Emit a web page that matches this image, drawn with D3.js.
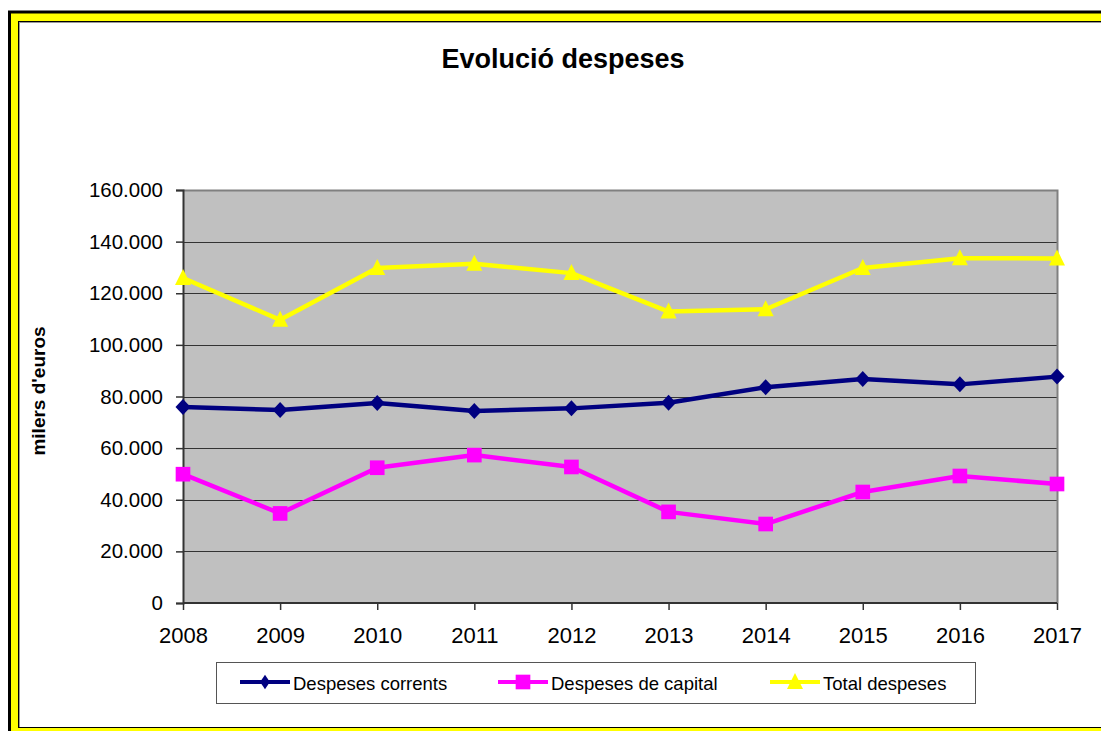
<!DOCTYPE html>
<html>
<head>
<meta charset="utf-8">
<script src="https://cdn.jsdelivr.net/npm/d3@7"></script>
<style>
  body { margin: 0; background: #fff; }
  svg { display: block; font-family: "Liberation Sans", Arial, sans-serif; }
</style>
</head>
<body>
<div id="chart-area"></div>
<script>
var years = ["2008", "2009", "2010", "2011", "2012", "2013", "2014", "2015", "2016", "2017"];
var corrents = [75900, 74800, 77500, 74400, 75400, 77600, 83600, 86800, 84700, 87700];
var capital = [49900, 34700, 52400, 57300, 52700, 35300, 30600, 43000, 49200, 46100];
var total = [125900, 109700, 129800, 131400, 127800, 112900, 113800, 129800, 133600, 133500];
var yTicks = [0, 20000, 40000, 60000, 80000, 100000, 120000, 140000, 160000];
var seriesNames = ["Despeses corrents", "Despeses de capital", "Total despeses"];

var width = 1101, height = 731;
var svg = d3.select("#chart-area").append("svg")
    .attr("width", width)
    .attr("height", height);

// outer frame (yellow with black edges)
svg.append("rect")
    .attr("x", 9.5).attr("y", 12)
    .attr("width", 1110).attr("height", 740)
    .attr("fill", "yellow")
    .attr("stroke", "black")
    .attr("stroke-width", 3);
svg.append("rect")
    .attr("x", 19.5).attr("y", 22.5)
    .attr("width", 1110).attr("height", 705)
    .attr("fill", "white")
    .attr("stroke", "#999")
    .attr("stroke-width", 1);
svg.append("rect")
    .attr("x", 18.5).attr("y", 21.5)
    .attr("width", 1110).attr("height", 706)
    .attr("fill", "none")
    .attr("stroke", "black")
    .attr("stroke-width", 1);

var plotLeft = 183, plotRight = 1057, plotTop = 190, plotBottom = 603;

var x = d3.scalePoint()
    .domain(years)
    .range([plotLeft, plotRight]);

var y = d3.scaleLinear()
    .domain([0, 160000])
    .range([plotBottom, plotTop]);

// plot background
svg.append("rect")
    .attr("x", plotLeft).attr("y", plotTop)
    .attr("width", plotRight - plotLeft).attr("height", plotBottom - plotTop)
    .attr("fill", "#c0c0c0");

// gridlines
svg.append("g")
    .selectAll("line")
    .data(yTicks.slice(1))
    .enter()
    .append("line")
    .attr("x1", plotLeft).attr("x2", plotRight)
    .attr("y1", function(d) { return Math.round(y(d)) + 0.5; })
    .attr("y2", function(d) { return Math.round(y(d)) + 0.5; })
    .attr("stroke", "#333")
    .attr("stroke-width", 1);

// plot border top/right
svg.append("path")
    .attr("d", "M" + plotLeft + "," + (plotTop + 0.5) + "H" + (plotRight + 0.5) + "V" + plotBottom)
    .attr("fill", "none")
    .attr("stroke", "#808080")
    .attr("stroke-width", 2);

var fmt = function(d) {
    return d === 0 ? "0" : d3.format(",")(d).replace(/,/g, ".");
};

// y axis
var yAxis = svg.append("g")
    .attr("transform", "translate(" + plotLeft + ",0)")
    .call(d3.axisLeft(y).tickValues(yTicks).tickSize(7).tickPadding(13).tickFormat(fmt));
yAxis.select(".domain").attr("stroke", "#333").attr("stroke-width", 2);
yAxis.selectAll(".tick line").attr("stroke", "#333").attr("stroke-width", 1.5);
yAxis.selectAll("text")
    .attr("font-size", 20.5)
    .attr("fill", "black")
    .attr("font-family", "Liberation Sans, Arial, sans-serif");

// x axis
var xAxis = svg.append("g")
    .attr("transform", "translate(0," + plotBottom + ")")
    .call(d3.axisBottom(x).tickSize(7).tickPadding(17));
xAxis.select(".domain").attr("d", "M" + plotLeft + ",0H" + plotRight).attr("stroke", "#333").attr("stroke-width", 2);
xAxis.selectAll(".tick line").attr("stroke", "#333").attr("stroke-width", 1.5);
xAxis.selectAll("text")
    .attr("font-size", 22)
    .attr("fill", "black")
    .attr("font-family", "Liberation Sans, Arial, sans-serif");

// title
svg.append("text")
    .attr("x", 563).attr("y", 68)
    .attr("text-anchor", "middle")
    .attr("font-size", 27)
    .attr("font-weight", "bold")
    .text("Evolució despeses");

// y axis title
svg.append("text")
    .attr("transform", "translate(45,391) rotate(-90)")
    .attr("text-anchor", "middle")
    .attr("font-size", 19)
    .attr("font-weight", "bold")
    .text("milers d'euros");

var tri = {
    draw: function(context, size) {
        context.moveTo(0, -9);
        context.lineTo(8, 7);
        context.lineTo(-8, 7);
        context.closePath();
    }
};

var dia = {
    draw: function(context, size) {
        context.moveTo(0, -8);
        context.lineTo(7.5, 0);
        context.lineTo(0, 8);
        context.lineTo(-7.5, 0);
        context.closePath();
    }
};

var diamond = d3.symbol().type(dia);
var square = d3.symbol().type(d3.symbolSquare).size(215);
var triangle = d3.symbol().type(tri);

var series = [
    { name: seriesNames[0], values: corrents, color: "#000080", sym: diamond },
    { name: seriesNames[1], values: capital, color: "#ff00ff", sym: square },
    { name: seriesNames[2], values: total, color: "#ffff00", sym: triangle }
];

var line = d3.line()
    .x(function(d, i) { return x(years[i]); })
    .y(function(d) { return y(d); });

series.forEach(function(s) {
    svg.append("path")
        .datum(s.values)
        .attr("d", line)
        .attr("fill", "none")
        .attr("stroke", s.color)
        .attr("stroke-width", 4.5)
        .attr("stroke-linejoin", "round");
    svg.append("g")
        .selectAll("path")
        .data(s.values)
        .enter()
        .append("path")
        .attr("d", s.sym)
        .attr("fill", s.color)
        .attr("transform", function(d, i) {
            return "translate(" + x(years[i]) + "," + y(d) + ")";
        });
});

// legend
svg.append("rect")
    .attr("x", 216.5).attr("y", 662.5)
    .attr("width", 759).attr("height", 41)
    .attr("fill", "white")
    .attr("stroke", "#555")
    .attr("stroke-width", 1);

var legendX = [240, 498, 770];
series.forEach(function(s, i) {
    var lx = legendX[i], ly = 682;
    svg.append("line")
        .attr("x1", lx).attr("x2", lx + 50)
        .attr("y1", ly).attr("y2", ly)
        .attr("stroke", s.color)
        .attr("stroke-width", 4);
    svg.append("path")
        .attr("d", s.sym)
        .attr("fill", s.color)
        .attr("transform", "translate(" + (lx + 25) + "," + ly + ")" + (i === 0 ? " scale(0.65,0.9)" : ""));
    svg.append("text")
        .attr("x", lx + 53).attr("y", 690)
        .attr("font-size", 18.5)
        .text(s.name);
});
</script>
</body>
</html>
